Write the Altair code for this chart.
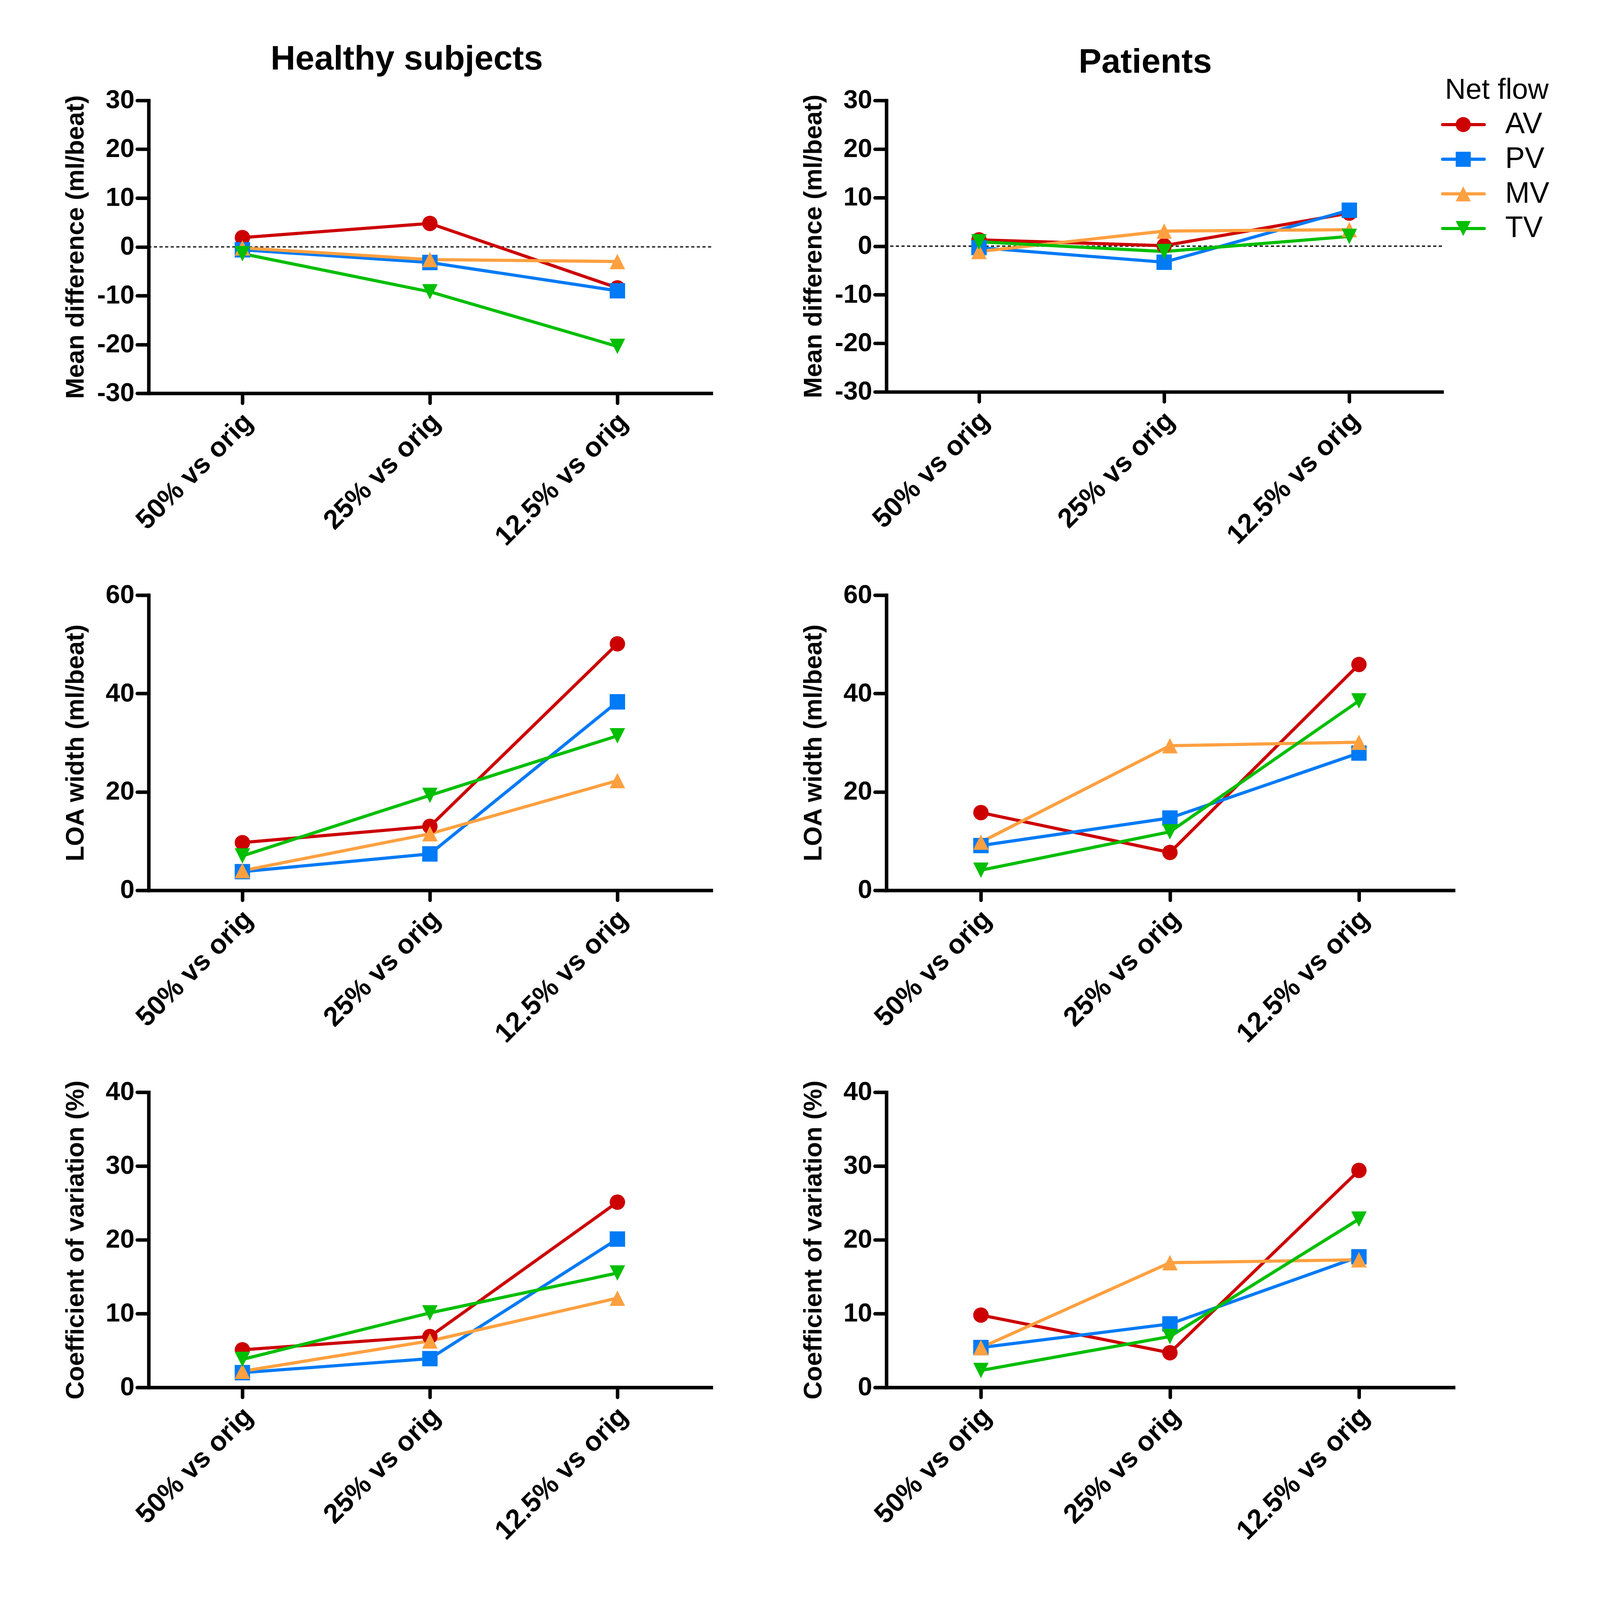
import altair as alt
import pandas as pd

# ---------------- data ----------------
categories = ["50% vs orig", "25% vs orig", "12.5% vs orig"]
series = ["AV", "PV", "MV", "TV"]
series_colors = ["#CC0000", "#007AF5", "#FFA040", "#00BE00"]
# circle, square, triangle up, triangle down (triangles drawn as tall as they are wide)
series_shapes = ["circle", "square", "M0,-1L1,1L-1,1Z", "M-1,-1L1,-1L0,1Z"]

healthy_mean = {"AV": [1.9, 4.8, -8.4], "PV": [-0.6, -3.2, -9.0],
                "MV": [-0.2, -2.6, -3.0], "TV": [-1.4, -9.2, -20.4]}
patients_mean = {"AV": [1.3, 0.1, 6.8], "PV": [-0.3, -3.3, 7.4],
                 "MV": [-1.1, 3.1, 3.4], "TV": [0.9, -1.1, 2.0]}
healthy_loa = {"AV": [9.7, 13.0, 50.1], "PV": [3.8, 7.4, 38.3],
               "MV": [4.0, 11.5, 22.3], "TV": [7.0, 19.3, 31.4]}
patients_loa = {"AV": [15.8, 7.7, 45.9], "PV": [9.1, 14.7, 27.9],
                "MV": [9.8, 29.4, 30.1], "TV": [4.1, 11.9, 38.5]}
healthy_cv = {"AV": [5.1, 6.9, 25.1], "PV": [2.0, 3.9, 20.1],
              "MV": [2.2, 6.3, 12.1], "TV": [3.8, 10.1, 15.5]}
patients_cv = {"AV": [9.8, 4.7, 29.4], "PV": [5.4, 8.6, 17.7],
               "MV": [5.4, 16.9, 17.3], "TV": [2.3, 6.9, 22.8]}

ticks_mean = [-30, -20, -10, 0, 10, 20, 30]
ticks_loa = [0, 20, 40, 60]
ticks_cv = [0, 10, 20, 30, 40]

title_healthy = "Healthy subjects"
title_patients = "Patients"
ytitle_mean = "Mean difference (ml/beat)"
ytitle_loa = "LOA width (ml/beat)"
ytitle_cv = "Coefficient of variation (%)"
legend_title = "Net flow"

# ---------------- styling ----------------
SANS = "Liberation Sans, Arial, sans-serif"
LINE_W = 9
MARK_SIZE = 1936


def long_df(values):
    rows = []
    for s in series:
        for c, v in zip(categories, values[s]):
            rows.append({"series": s, "cat": c, "val": v})
    return pd.DataFrame(rows)


color_enc = alt.Color("series:N", scale=alt.Scale(domain=series, range=series_colors), legend=None)
shape_enc = alt.Shape("series:N", scale=alt.Scale(domain=series, range=series_shapes), legend=None)


def main_layer(values, ydomain, yticks, ytitle, zero_line=False):
    df = long_df(values)
    x = alt.X("cat:N", sort=categories,
              scale=alt.Scale(type="point", domain=categories, padding=0.5),
              axis=alt.Axis(title=None, labelAngle=-45, labelAlign="right", labelBaseline="middle",
                            labelFont=SANS, labelFontSize=78, labelFontWeight="bold", labelColor="black",
                            labelPadding=42, labelOffset=17, labelLimit=2000, labelOverlap=False,
                            tickSize=28, tickWidth=10, tickColor="black", tickCap="round",
                            domainWidth=10, domainColor="black", domainCap="square", grid=False))
    yaxis = alt.Axis(values=yticks, title=ytitle, titleFont=SANS, titleFontSize=72,
                     titleFontWeight="bold", titleColor="black", titlePadding=30, titleLimit=3000,
                     labelFont=SANS, labelFontSize=74, labelFontWeight="bold", labelColor="black",
                     labelPadding=8, labelOverlap=False, labelExpr="'' + datum.value",
                     tickSize=33, tickWidth=10, tickColor="black", tickCap="round",
                     domainWidth=10, domainColor="black", domainCap="square",
                     minExtent=141, maxExtent=141, grid=False)
    yscale = alt.Scale(domain=ydomain, nice=False, zero=False)
    y = alt.Y("val:Q", scale=yscale, axis=yaxis, title=ytitle)
    base = alt.Chart(df)
    layers = []
    if zero_line:
        zdf = pd.DataFrame({"zero": [0]})
        layers.append(alt.Chart(zdf).mark_rule(color="black", strokeWidth=3.5, strokeDash=[9, 7]).encode(
            y=alt.Y("zero:Q", scale=yscale, axis=yaxis, title=ytitle)))
    layers.append(base.mark_line(strokeWidth=LINE_W).encode(x=x, y=y, color=color_enc))
    layers.append(base.mark_point(filled=True, opacity=1, size=MARK_SIZE).encode(
        x=x, y=y, color=color_enc, shape=shape_enc))
    return alt.layer(*layers)


def title_params(text, dx, offset):
    return alt.TitleParams(text, font=SANS, fontSize=98, fontWeight="bold", color="black",
                           anchor="middle", frame="group", baseline="alphabetic",
                           offset=offset, dx=dx)


# ---------------- legend (line + marker symbols), drawn beside the top-right panel ----------------
leg_df = pd.DataFrame({"series": series})
leg_title_df = pd.DataFrame({"series": [legend_title]})
ly = alt.Y("series:N", sort=[legend_title] + series,
           scale=alt.Scale(type="point", domain=[legend_title] + series, range=[-30, 366], padding=0),
           axis=None)
lrule = alt.Chart(leg_df).mark_rule(strokeWidth=LINE_W, strokeCap="round").encode(
    x=alt.value(1590), x2=alt.value(1709), y=ly, color=color_enc)
lpoint = alt.Chart(leg_df).mark_point(filled=True, opacity=1, size=1849).encode(
    x=alt.value(1649), y=ly, color=color_enc, shape=shape_enc)
ltext = alt.Chart(leg_df).mark_text(align="left", baseline="middle", fontSize=84, font=SANS,
                                    color="black").encode(x=alt.value(1769), y=ly, text="series:N")
ltitle = alt.Chart(leg_title_df).mark_text(align="left", baseline="middle", fontSize=82, font=SANS,
                                           color="black").encode(x=alt.value(1597), y=ly, text="series:N")
legend_layer = alt.layer(lrule, lpoint, ltext, ltitle)

# ---------------- panels ----------------
L1 = main_layer(healthy_mean, [-30, 30], ticks_mean, ytitle_mean, zero_line=True).properties(
    width=1608, height=837, title=title_params(title_healthy, -66, -47))
R1 = alt.layer(main_layer(patients_mean, [-30, 30], ticks_mean, ytitle_mean, zero_line=True),
               legend_layer).resolve_scale(y="independent").properties(
    width=1588, height=833, title=title_params(title_patients, -54, -90))
L2 = main_layer(healthy_loa, [0, 60], ticks_loa, ytitle_loa).properties(width=1608, height=844)
R2 = main_layer(patients_loa, [0, 60], ticks_loa, ytitle_loa).properties(width=1621, height=844)
L3 = main_layer(healthy_cv, [0, 40], ticks_cv, ytitle_cv).properties(width=1608, height=844)
R3 = main_layer(patients_cv, [0, 40], ticks_cv, ytitle_cv).properties(width=1621, height=844)

chart = alt.concat(L1, R1, L2, R2, L3, R3, columns=2,
                   spacing={"row": 577, "column": 501}, bounds="flush").properties(
    autosize=alt.AutoSizeParams(type="none"),
    padding={"left": 416, "top": -54, "right": 4140, "bottom": 5750},
    background="white",
).configure_view(stroke=None)

chart.save("out.html", embed_options={"renderer": "svg", "actions": False})
